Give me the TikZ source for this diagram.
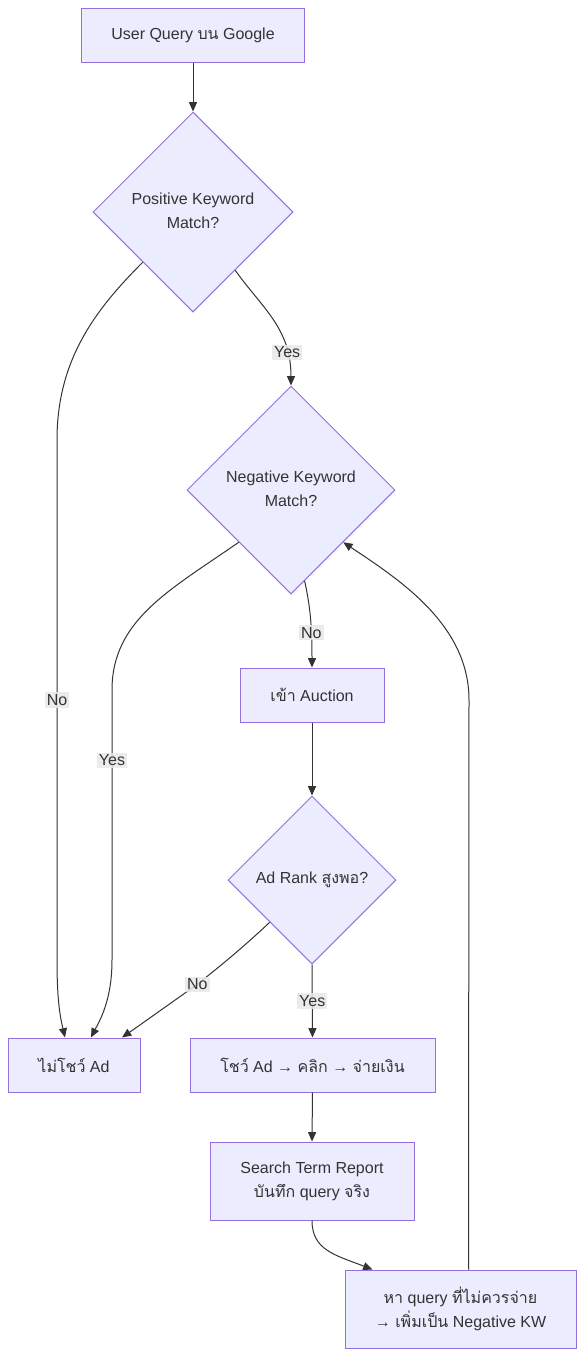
\documentclass[tikz,border=0pt]{standalone}
\usepackage{fontspec}
\setmainfont{Liberation Sans}
\newfontfamily\thai[Script=Thai]{Loma}
\usetikzlibrary{shapes.geometric,arrows.meta,calc}
\definecolor{nfill}{HTML}{ECECFF}
\definecolor{nstroke}{HTML}{9370DB}
\definecolor{eline}{HTML}{333333}
\definecolor{lblbg}{HTML}{E8E8E8}
\newcommand{\thx}[1]{{\thai #1}}
\begin{document}
\begin{tikzpicture}[x=0.75pt,y=-0.75pt,
  every node/.style={text=eline,font=\fontsize{12}{18}\selectfont},
  box/.style={draw=nstroke,fill=nfill,line width=0.75pt,rectangle,inner sep=0pt,minimum height=40.5pt,align=center},
  dia/.style={draw=nstroke,fill=nfill,line width=0.75pt,diamond,aspect=1,inner sep=0pt},
  conn/.style={draw=eline,line width=0.75pt,-{Triangle[length=7pt,width=6pt]}},
  lbl/.style={fill=lblbg,fill opacity=0.85,text opacity=1,inner sep=1.5pt}]
\useasboundingbox (0,0) rectangle (584,1356);
\node[box,minimum width=167.25pt] (A) at (193,35) {User Query \thx{บน} Google};
\node[dia,minimum size=150pt] (B) at (193,212) {\makebox[0pt]{\begin{tabular}{@{}c@{}}Positive Keyword\\Match?\end{tabular}}};
\node[dia,minimum size=156pt] (C) at (291,490) {\makebox[0pt]{\begin{tabular}{@{}c@{}}Negative Keyword\\Match?\end{tabular}}};
\node[box,minimum width=108pt] (D) at (312,695) {\thx{เข้า} Auction};
\node[dia,minimum size=126pt] (E) at (312,880) {\makebox[0pt]{Ad Rank \thx{สูงพอ}?}};
\node[box,minimum width=99pt] (F) at (74,1065) {\thx{ไม่โชว์} Ad};
\node[box,minimum width=183.75pt] (G) at (312.5,1065) {\thx{โชว์} Ad → \thx{คลิก} → \thx{จ่ายเงิน}};
\node[box,minimum width=153pt,minimum height=58.5pt] (H) at (312,1181) {Search Term Report\\\thx{บันทึก} query \thx{จริง}};
\node[box,minimum width=173.25pt,minimum height=58.5pt] (I) at (460.5,1309) {\thx{หา} query \thx{ที่ไม่ควรจ่าย}\\→ \thx{เพิ่มเป็น} Negative KW};

\coordinate (Bse) at ($(B.south)!0.42!(B.east)$);
\coordinate (Cse) at ($(C.south)!0.13!(C.east)$);
\coordinate (Fa) at ($(F.north)+(-9,0)$);
\coordinate (Fb) at ($(F.north)+(17,0)$);
\coordinate (Fc) at ($(F.north)+(48,0)$);
\coordinate (Ia) at ($(I.north)+(-88,0)$);
\coordinate (Ib) at ($(I.north)+(8,0)$);

\draw[conn] (A.south) -- (B.north);
\draw[conn] (B.south west) .. controls (95,310) and (57,360) .. (57,440)
  -- node[lbl,pos=0.5] (lNo1) {No} (57,960) .. controls (57,1005) and (61,1020) .. (Fa);
\draw[conn] (Bse) .. controls (262,308) and (291,328) .. node[lbl,pos=0.78] (lYes1) {Yes} (C.north);
\draw[conn] (C.south west) .. controls (170,590) and (112,620) .. (112,690)
  -- node[lbl,pos=0.26] (lYes2) {Yes} (112,960) .. controls (112,1000) and (100,1020) .. (Fb);
\draw[conn] (Cse) .. controls (310,605) and (312,625) .. node[lbl,pos=0.68] (lNo2) {No} (D.north);
\draw[conn] (D.south) -- (E.north);
\draw[conn] (E.south west) .. controls (235,955) and (205,978) .. node[lbl,pos=0.93] (lNo3) {No} (195,986) .. controls (168,1005) and (140,1025) .. (Fc);
\draw[conn] (E.south) -- node[lbl,pos=0.5] (lYes3) {Yes} (G.north);
\draw[conn] (G.south) -- (H.north);
\draw[conn] (H.south) .. controls (312,1250) and (335,1255) .. (Ia);
\draw[conn] (Ib) -- (469,700) .. controls (469,625) and (400,580) .. (C.south east);
\end{tikzpicture}
\end{document}
